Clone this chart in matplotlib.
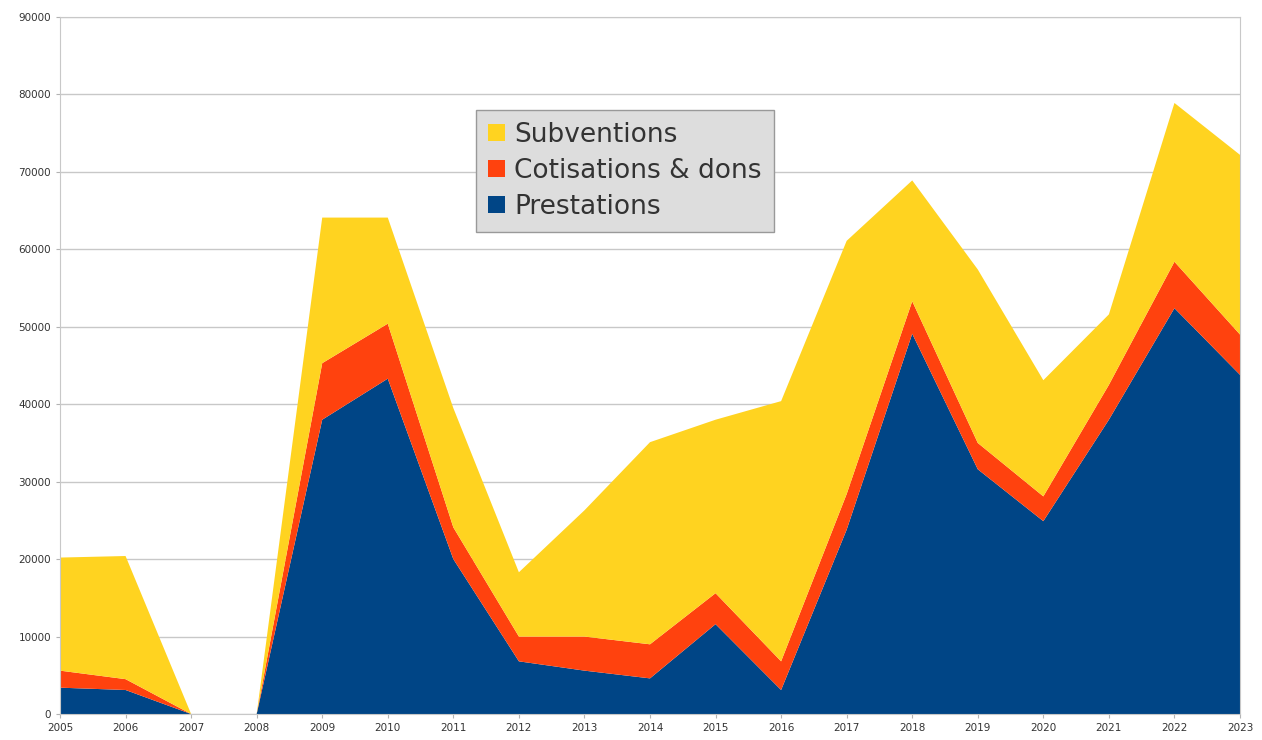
import numpy as np
import matplotlib
matplotlib.use("Agg")
import matplotlib.pyplot as plt

# values
years = list(range(2005, 2024))
prestations = [3400, 3100, 0, 0, 38000, 43300, 20000, 6800, 5600, 4600,
               11600, 3100, 23800, 49100, 31600, 24900, 38000, 52400, 43800]
cotisations = [2200, 1400, 0, 0, 7300, 7100, 4100, 3200, 4400, 4400,
               4000, 3700, 4600, 4200, 3400, 3200, 4500, 6000, 5200]
subventions = [14600, 15900, 0, 0, 18800, 13700, 15400, 8300, 16300, 26100,
               22400, 33600, 32700, 15600, 22400, 15000, 9100, 20500, 23200]

labels = ["Prestations", "Cotisations & dons", "Subventions"]
colors = ["#004586", "#ff420e", "#ffd320"]

fig = plt.figure(figsize=(12.62, 7.4), dpi=100)
ax = fig.add_axes([60/1262, 1 - 714/740, 1180/1262, 697/740])

polys = ax.stackplot(years, prestations, cotisations, subventions,
                     labels=labels, colors=colors, linewidth=0)

ax.set_xlim(2005, 2023)
ax.set_ylim(0, 90000)
ax.set_xticks(years)
ax.set_yticks(np.arange(0, 90001, 10000))
ax.tick_params(labelsize=7.5, length=3, color="#b3b3b3", labelcolor="#333333")
ax.grid(axis="y", color="#c8c8c8", linewidth=1)
ax.set_axisbelow(True)
for s in ax.spines.values():
    s.set_color("#c8c8c8")

handles, labs = ax.get_legend_handles_labels()
leg = ax.legend(handles[::-1], labs[::-1], loc="upper left",
                bbox_to_anchor=(416/1180, 604/697), borderaxespad=0,
                fontsize=19, handlelength=0.65, handleheight=0.65,
                handletextpad=0.35, labelspacing=0.38, fancybox=False,
                framealpha=1, facecolor="#dddddd", edgecolor="#999999",
                borderpad=0.45)
for t in leg.get_texts():
    t.set_color("#333333")

fig.savefig("out.png", dpi=100)
